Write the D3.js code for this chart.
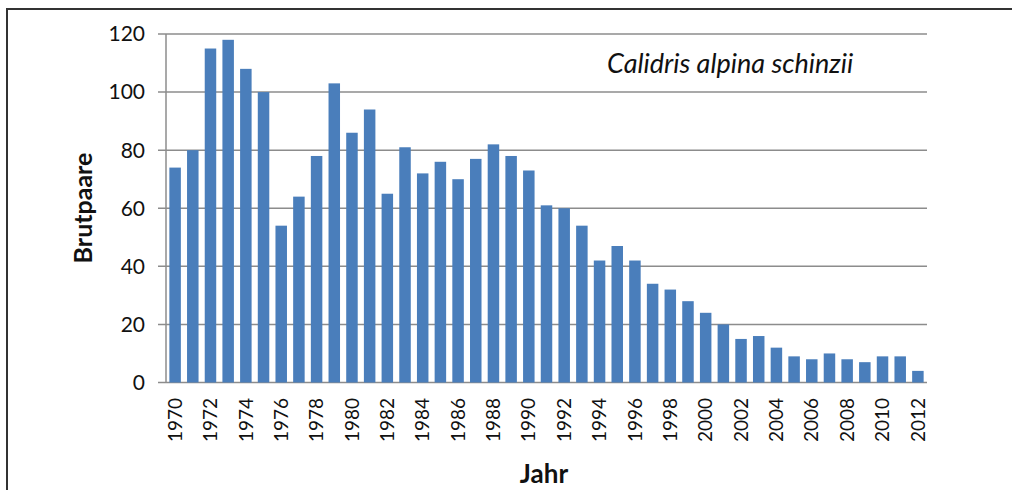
<!DOCTYPE html>
<html>
<head>
<meta charset="utf-8">
<script src="https://cdn.jsdelivr.net/npm/d3@7"></script>
<style>
  body { margin: 0; background: #fff; }
  text { font-family: Lato, "Open Sans", sans-serif; fill: #111; }
</style>
</head>
<body>
<svg id="chart" width="1012" height="490"></svg>
<script>
// years 1970..2012
var years = [1970, 1971, 1972, 1973, 1974, 1975, 1976, 1977, 1978, 1979,
  1980, 1981, 1982, 1983, 1984, 1985, 1986, 1987, 1988, 1989,
  1990, 1991, 1992, 1993, 1994, 1995, 1996, 1997, 1998, 1999,
  2000, 2001, 2002, 2003, 2004, 2005, 2006, 2007, 2008, 2009,
  2010, 2011, 2012];
var pairs = [74, 80, 115, 118, 108, 100, 54, 64, 78, 103,
  86, 94, 65, 81, 72, 76, 70, 77, 82, 78,
  73, 61, 60, 54, 42, 47, 42, 34, 32, 28,
  24, 20, 15, 16, 12, 9, 8, 10, 8, 7,
  9, 9, 4];
var yTicks = [0, 20, 40, 60, 80, 100, 120];

var svg = d3.select("#chart");

// outer frame
svg.append("rect")
  .attr("x", 7).attr("y", 9)
  .attr("width", 1020).attr("height", 500)
  .attr("fill", "none")
  .attr("stroke", "#333")
  .attr("stroke-width", 2);

var plotLeft = 166, plotRight = 927, plotTop = 34, plotBottom = 382.5;

var x = d3.scaleBand()
  .domain(years)
  .range([plotLeft, plotRight])
  .paddingInner(0.35)
  .paddingOuter(0.19);

var y = d3.scaleLinear()
  .domain([0, 120])
  .range([plotBottom, plotTop]);

// gridlines
svg.append("g")
  .selectAll("line")
  .data(yTicks)
  .enter()
  .append("line")
  .attr("x1", plotLeft - 8)
  .attr("x2", plotRight)
  .attr("y1", function(d) { return y(d); })
  .attr("y2", function(d) { return y(d); })
  .attr("stroke", "#8c8c8c")
  .attr("stroke-width", 1.5);

// y axis line
svg.append("line")
  .attr("x1", plotLeft).attr("x2", plotLeft)
  .attr("y1", plotTop).attr("y2", plotBottom)
  .attr("stroke", "#8c8c8c")
  .attr("stroke-width", 1.5);

// bars
svg.selectAll("rect.bar")
  .data(pairs)
  .enter()
  .append("rect")
  .attr("class", "bar")
  .attr("x", function(d, i) { return x(years[i]); })
  .attr("y", function(d) { return y(d); })
  .attr("width", x.bandwidth())
  .attr("height", function(d) { return y(0) - y(d); })
  .attr("fill", "#4a7ebb");

// y tick labels
svg.append("g")
  .selectAll("text")
  .data(yTicks)
  .enter()
  .append("text")
  .attr("x", 145)
  .attr("y", function(d) { return y(d); })
  .attr("dy", "0.35em")
  .attr("text-anchor", "end")
  .style("font-size", "21px")
  .text(function(d) { return d; });

// x tick labels, every other year
svg.append("g")
  .selectAll("text")
  .data(years.filter(function(d) { return d % 2 === 0; }))
  .enter()
  .append("text")
  .attr("transform", function(d) {
    return "translate(" + (x(d) + x.bandwidth() / 2) + ",398)rotate(-90)";
  })
  .attr("dy", "0.35em")
  .attr("text-anchor", "end")
  .style("font-size", "19px")
  .text(function(d) { return d; });

// axis titles
svg.append("text")
  .attr("transform", "translate(92,208)rotate(-90)")
  .attr("text-anchor", "middle")
  .style("font-size", "25px")
  .style("font-weight", "bold")
  .text("Brutpaare");

svg.append("text")
  .attr("x", 544)
  .attr("y", 483)
  .attr("text-anchor", "middle")
  .style("font-size", "26px")
  .style("font-weight", "bold")
  .text("Jahr");

// species name
svg.append("text")
  .attr("x", 607)
  .attr("y", 73)
  .style("font-size", "27px")
  .style("font-style", "italic")
  .text("Calidris alpina schinzii");
</script>
</body>
</html>
